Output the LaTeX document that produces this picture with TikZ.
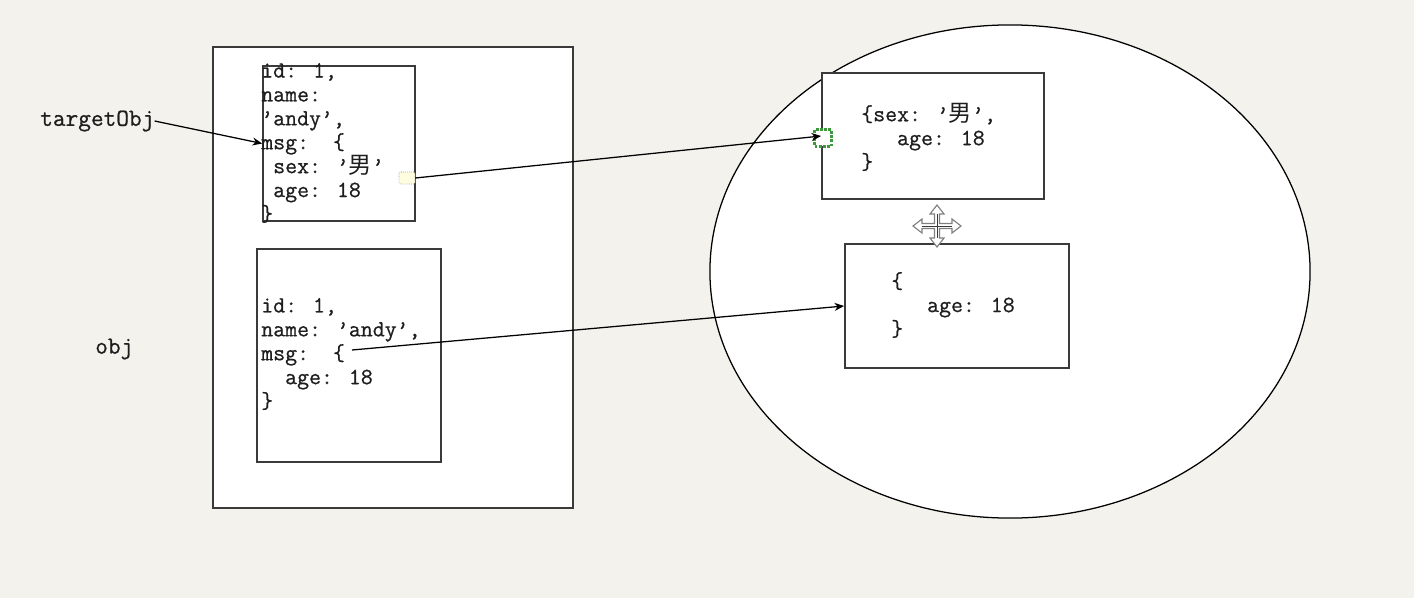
\documentclass[tikz,border=0pt]{standalone}
\usepackage{fontspec}
\usepackage{tikz}
\usetikzlibrary{arrows.meta,positioning,shapes.geometric,calc}
\newfontfamily\cjk{Noto Sans CJK SC}
\newfontfamily\codefont[FakeBold=0.7]{Latin Modern Mono}
\definecolor{memback}{HTML}{F4F2EC}
\definecolor{memline}{HTML}{3A3A3A}
\definecolor{memink}{HTML}{1E1E1E}
\definecolor{selgreen}{HTML}{3C9A3C}
\tikzset{
  memframe/.style={draw=memline, line width=1.2pt, fill=white, inner sep=0pt},
  code/.style={font=\codefont\fontsize{16.5}{17}\selectfont, text=memink, align=left, inner sep=0pt, anchor=west},
  varname/.style={font=\codefont\fontsize{17.5}{20}\selectfont, text=memink, inner sep=0pt, anchor=west},
  grip/.style={draw=gray, densely dotted, fill=yellow!12, rounded corners=1pt, minimum width=0.4cm, minimum height=0.3cm, inner sep=0pt},
  selbox/.style={draw=selgreen, densely dotted, line width=2pt, fill=white, minimum size=0.42cm, inner sep=0pt},
  ptr/.style={-{Stealth[length=2.4mm,width=2mm]}, line width=0.9pt, draw=black}
}
\begin{document}
\begin{tikzpicture}[x=0.025cm, y=-0.025cm]
  \fill[memback] (0,0) rectangle (1414,598);
  \useasboundingbox (0,0) rectangle (1414,598);

  % stack side
  \node[memframe, minimum width=9cm, minimum height=11.525cm] (objbox) at (393,277.5) {};
  \node[memframe, minimum width=3.8cm, minimum height=3.875cm] (copyA) at (339,143.5) {};
  \node[memframe, minimum width=4.6cm, minimum height=5.325cm] (copyB) at (349,355.5) {};

  % heap side
  \node[ellipse, draw=black, line width=0.9pt, fill=white, minimum width=15cm, minimum height=12.325cm, inner sep=0pt] (heap) at (1010,271.5) {};
  \node[memframe, minimum width=5.55cm, minimum height=3.15cm] (msgA) at (933,136) {};
  \node[memframe, minimum width=5.6cm, minimum height=3.1cm] (msgB) at (957,306) {};

  % texts
  \node[code] (copyAtxt) at (261,143) {id: 1,\\name:\\’andy’,\\msg:~~\{\\~sex: ’{\cjk 男}’\\~age: 18\\\}};
  \node[code] (copyBtxt) at (261,354) {id: 1,\\name: ’andy’,\\msg:~~\{\\~~age: 18\\\}};
  \node[code] (msgAtxt) at (861,137) {\{sex: ’{\cjk 男}’,\\~~~age: 18\\\}};
  \node[code] (msgBtxt) at (891,305) {\{\\~~~age: 18\\\}};
  \node[varname] (tgt) at (40,121) {targetObj};
  \node[varname] (objname) at (95,349) {obj};

  % handles
  \node[grip] (gripA) at (407,178) {};
  \node[selbox] (selA) at (823,138) {};

  % references
  \coordinate (braceB) at (352,350);
  \draw[ptr] (tgt.east) -- (copyA.west);
  \draw[ptr] (gripA.east) -- (msgA.west);
  \draw[ptr] (braceB) -- (msgB.west);

  % move cursor
  \begin{scope}[shift={(937,226)}]
    \draw[gray, fill=white, line width=0.8pt]
      (2.5,-2.5) -- (15,-2.5) -- (15,-7) -- (24,0) -- (15,7) -- (15,2.5) --
      (2.5,2.5) -- (2.5,12) -- (7,12) -- (0,21) -- (-7,12) -- (-2.5,12) --
      (-2.5,2.5) -- (-15,2.5) -- (-15,7) -- (-24,0) -- (-15,-7) -- (-15,-2.5) --
      (-2.5,-2.5) -- (-2.5,-12) -- (-7,-12) -- (0,-21) -- (7,-12) -- (2.5,-12) -- cycle;
    \draw[memline, line width=0.7pt] (-15,0) -- (15,0) (0,-12) -- (0,12);
  \end{scope}
\end{tikzpicture}
\end{document}
